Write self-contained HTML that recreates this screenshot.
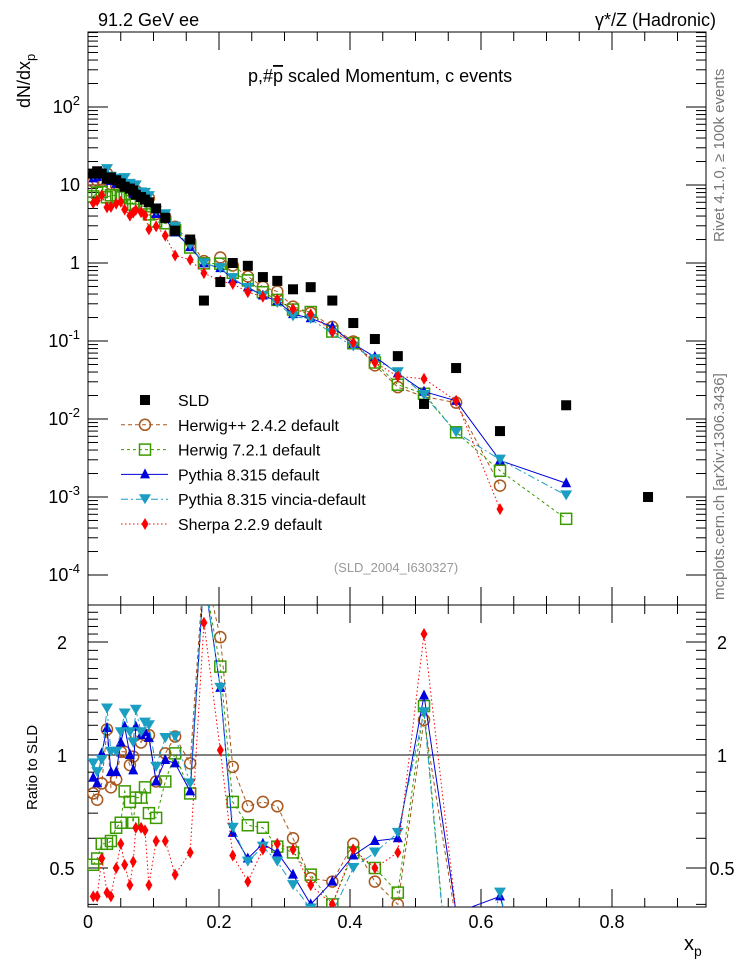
<!DOCTYPE html>
<html><head><meta charset="utf-8"><style>
html,body{margin:0;padding:0;background:#fff;width:746px;height:972px;overflow:hidden;}
svg{display:block;font-family:"Liberation Sans",sans-serif;}
</style></head><body>
<svg id="c" width="746" height="972" viewBox="0 0 746 972"></svg>
<script>
const xBins=[0.008,0.014,0.021,0.029,0.035,0.043,0.050,0.056,0.064,0.069,0.073,0.081,0.087,0.093,0.104,0.118,0.133,0.156,0.177,0.202,0.221,0.244,0.267,0.289,0.313,0.340,0.373,0.405,0.438,0.473,0.513,0.562,0.629,0.730,0.855];
const sldValues=[14,15,14,12,12.5,11.5,10.5,9.5,9,8.5,7.5,7,6.5,6,5,3.8,2.6,2.0,0.33,0.57,1.0,0.92,0.66,0.59,0.46,0.49,0.33,0.17,0.106,0.064,0.0156,0.045,0.007,0.015,0.001];
const ratioHerwigPP=[0.79,0.76,0.84,1.17,0.82,0.86,1.02,1.02,0.94,0.99,1.13,1.08,1.13,1.13,0.85,1.01,1.12,0.95,3.2,2.06,0.93,0.73,0.75,0.73,0.60,0.47,0.46,0.58,0.46,0.40,1.24,0.36,0.2,null,null];
const ratioHerwig7=[0.51,0.53,0.58,0.58,0.59,0.64,0.66,0.80,0.75,0.66,0.77,0.77,0.82,0.70,0.68,0.85,1.01,0.79,3.0,1.72,0.75,0.65,0.64,0.57,0.55,0.48,0.40,0.55,0.50,0.43,1.35,0.15,0.31,0.035,null];
const ratioPythia=[0.87,0.84,1.01,1.18,0.90,0.90,1.08,1.19,1.0,0.91,1.19,1.13,1.15,1.11,0.85,0.97,0.95,0.80,3.0,1.51,0.62,0.53,0.58,0.55,0.48,0.40,0.46,0.54,0.59,0.60,1.44,0.38,0.42,0.10,null];
const ratioVincia=[0.95,0.90,0.97,1.33,1.02,1.02,1.15,1.29,1.15,1.08,1.32,1.15,1.22,1.20,0.93,1.11,1.12,0.84,3.0,1.51,0.64,0.52,0.57,0.52,0.45,0.39,0.38,0.50,0.55,0.62,1.30,0.15,0.43,0.07,null];
const ratioSherpa=[0.42,0.42,0.53,0.43,0.42,0.50,0.58,0.51,0.45,0.52,0.64,0.64,0.63,0.45,0.59,0.59,0.48,0.55,2.25,1.03,0.54,0.46,0.56,0.58,0.56,0.45,0.40,0.56,0.50,0.55,2.1,0.38,0.10,null,null];
const xTicks=[0,0.2,0.4,0.6,0.8];
const yDecades=[-4,-3,-2,-1,0,1,2];
const ratioTicks=[0.5,1,2];

const NS="http://www.w3.org/2000/svg";
const svg=document.getElementById('c');
const L=88,R=706,T1=32,B1=605,B2=907;
const X=v=>L+v*655;
const Y=v=>263-Math.log10(v)*78;
const YR=v=>755-Math.log2(v)*113;
function el(t,a,p){const e=document.createElementNS(NS,t);for(const k in a)e.setAttribute(k,a[k]);(p||svg).appendChild(e);return e;}
const defs=el('defs',{});
const cp1=el('clipPath',{id:'cp1'},defs);el('rect',{x:L,y:T1,width:R-L,height:B1-T1},cp1);
const cp2=el('clipPath',{id:'cp2'},defs);el('rect',{x:L,y:B1,width:R-L,height:B2-B1},cp2);

const f1=el('rect',{x:L,y:T1,width:R-L,height:B1-T1,fill:'none',stroke:'#000','stroke-width':1});

const f2=el('rect',{x:L,y:B1,width:R-L,height:B2-B1,fill:'none',stroke:'#000','stroke-width':1});


for(let v=0;v<=0.94;v+=0.05){const maj=Math.abs(v/0.2-Math.round(v/0.2))<1e-6;const len=maj?18:9;
 el('line',{x1:X(v),x2:X(v),y1:B2,y2:B2-len,stroke:'#000'});el('line',{x1:X(v),x2:X(v),y1:B1,y2:B1+len,stroke:'#000'});
 el('line',{x1:X(v),x2:X(v),y1:B1,y2:B1-len,stroke:'#000'});el('line',{x1:X(v),x2:X(v),y1:T1,y2:T1+len,stroke:'#000'});}
xTicks.forEach(v=>{const t=el('text',{x:X(v),y:928,'font-size':18,'text-anchor':'middle'});t.textContent=v===0?'0':v.toFixed(1);
 });
yDecades.forEach(d=>{for(let m=1;m<10;m++){const v=m*Math.pow(10,d);const y=Y(v);if(y<T1||y>B1)continue;const len=m===1?20:10;
 el('line',{x1:L,x2:L+len,y1:y,y2:y,stroke:'#000'});el('line',{x1:R,x2:R-len,y1:y,y2:y,stroke:'#000'});}
 const y=Y(Math.pow(10,d));const t=el('text',{x:80,y:y+6,'font-size':18,'text-anchor':'end'});
 
 if(d===0)t.textContent='1';else if(d===1)t.textContent='10';else{t.textContent='10';const s=el('tspan',{'font-size':13,dy:-8},t);s.textContent=String(d);}});
for(let v=0.4;v<=2.5;v+=0.1){const y=YR(v);if(y<B1||y>B2)continue;const maj=[0.5,1,2].some(q=>Math.abs(q-v)<1e-6);const len=maj?20:10;
 el('line',{x1:L,x2:L+len,y1:y,y2:y,stroke:'#000'});el('line',{x1:R,x2:R-len,y1:y,y2:y,stroke:'#000'});}
ratioTicks.forEach(v=>{const y=YR(v);
 const a=el('text',{x:62,y:y+7,'font-size':18,'text-anchor':'middle'});a.textContent=String(v);
 
 const b=el('text',{x:722,y:y+7,'font-size':18,'text-anchor':'middle'});b.textContent=String(v);
 });
const ref=el('line',{x1:L,x2:R,y1:YR(1),y2:YR(1),stroke:'#000'});


const series=[
 {n:'herwigpp',r:ratioHerwigPP,c:'#a8571d',d:'4,3',m:'circ'},
 {n:'herwig7',r:ratioHerwig7,c:'#3a9a00',d:'3,3',m:'sq'},
 {n:'pythia',r:ratioPythia,c:'#0000dd',d:'',m:'up'},
 {n:'vincia',r:ratioVincia,c:'#1a9ec2',d:'7,3,2,3',m:'dn'},
 {n:'sherpa',r:ratioSherpa,c:'#ff0000',d:'1.5,2.5',m:'dia'}];
function marker(g,m,x,y,c){
 if(m==='circ')return el('circle',{cx:x,cy:y,r:5.5,fill:'none',stroke:c,'stroke-width':1.5},g);
 if(m==='sq')return el('rect',{x:x-5.5,y:y-5.5,width:11,height:11,fill:'none',stroke:c,'stroke-width':1.5},g);
 if(m==='up')return el('path',{d:`M${x},${y-6}L${x+5},${y+4}L${x-5},${y+4}Z`,fill:c},g);
 if(m==='dn')return el('path',{d:`M${x-6},${y-5}L${x+6},${y-5}L${x},${y+5}Z`,fill:c},g);
 if(m==='dia')return el('path',{d:`M${x},${y-6}L${x+3.5},${y}L${x},${y+6}L${x-3.5},${y}Z`,fill:c},g);
 if(m==='sld')return el('rect',{x:x-5,y:y-5,width:10,height:10,fill:'#000'},g);}
series.forEach(s=>{
 const g1=el('g',{'clip-path':'url(#cp1)'});
 const g2=el('g',{'clip-path':'url(#cp2)'});
 let p1='',p2='';
 xBins.forEach((x,i)=>{const r=s.r[i];if(r==null)return;const v=sldValues[i]*r;
  p1+=(p1?'L':'M')+X(x)+','+Y(v);p2+=(p2?'L':'M')+X(x)+','+YR(r);});
 el('path',{d:p1,fill:'none',stroke:s.c,'stroke-width':1,'stroke-dasharray':s.d},g1);
 el('path',{d:p2,fill:'none',stroke:s.c,'stroke-width':1,'stroke-dasharray':s.d},g2);
 xBins.forEach((x,i)=>{const r=s.r[i];if(r==null)return;const v=sldValues[i]*r;
  const a=marker(g1,s.m,X(x),Y(v),s.c);
  const b=marker(g2,s.m,X(x),YR(r),s.c);});
});
const gs=el('g',{'clip-path':'url(#cp1)'});
xBins.forEach((x,i)=>{const m=marker(gs,'sld',X(x),Y(sldValues[i]));});

const leg=[['SLD','#000','','sld'],['Herwig++ 2.4.2 default',series[0].c,series[0].d,'circ'],['Herwig 7.2.1 default',series[1].c,series[1].d,'sq'],
 ['Pythia 8.315 default',series[2].c,'','up'],['Pythia 8.315 vincia-default',series[3].c,series[3].d,'dn'],['Sherpa 2.2.9 default',series[4].c,series[4].d,'dia']];
const lg=el('g',{});
leg.forEach((e,i)=>{const y=400+i*24.8;const g=el('g',{},lg);
 if(i>0)el('line',{x1:121,x2:168,y1:y,y2:y,stroke:e[1],'stroke-dasharray':e[2]},g);
 marker(g,e[3],145,y,e[1]);
 const t=el('text',{x:178,y:y+6,'font-size':16},g);t.textContent=e[0];});

function txt(s,a,name){const t=el('text',a);t.textContent=s;return t;}
txt('91.2 GeV ee',{x:98,y:26,'font-size':18},'energy-label');
txt('γ*/Z (Hadronic)',{x:716,y:26,'font-size':18,'text-anchor':'end'},'process-label');
const tt=txt('p,#',{x:248,y:82,'font-size':18},'plot-title');
const ts=el('tspan',{'text-decoration':'overline'},tt);ts.textContent='p';
const ts2=el('tspan',{},tt);ts2.textContent=' scaled Momentum, c events';
const yl=el('text',{transform:'translate(30,108) rotate(-90)','font-size':18});
yl.textContent='dN/dx';const ys=el('tspan',{'font-size':13,dy:5},yl);ys.textContent='p';
txt('Ratio to SLD',{transform:'translate(37,810) rotate(-90)','font-size':15},'ratio-axis-title');
const xl=el('text',{x:684,y:950,'font-size':20});
xl.textContent='x';const xs=el('tspan',{'font-size':14,dy:6},xl);xs.textContent='p';
txt('Rivet 4.1.0, ≥ 100k events',{transform:'translate(724,242) rotate(-90)','font-size':15,fill:'#777'},'rivet-label');
txt('mcplots.cern.ch [arXiv:1306.3436]',{transform:'translate(724,600) rotate(-90)','font-size':15,fill:'#777'},'mcplots-label');
txt('(SLD_2004_I630327)',{x:396,y:572,'font-size':13,fill:'#999','text-anchor':'middle'},'analysis-id');
</script>
</body></html>
